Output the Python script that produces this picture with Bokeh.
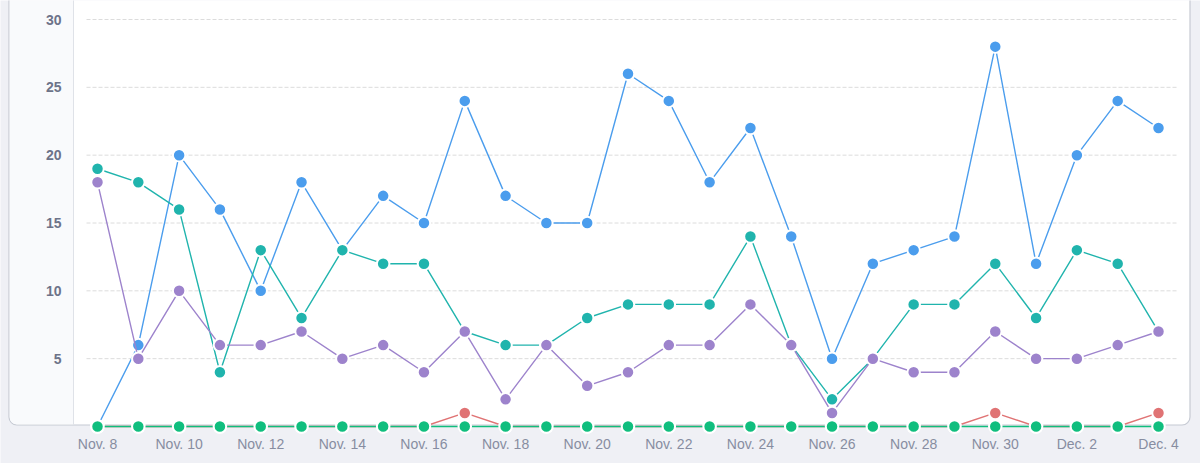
from bokeh.plotting import figure
from bokeh.models import BoxAnnotation, Range1d
from bokeh.core.properties import value
from bokeh.embed import file_html
from bokeh.resources import INLINE

# Daily counts, Nov. 8 through Dec. 4
days = ["Nov. 8", "Nov. 9", "Nov. 10", "Nov. 11", "Nov. 12", "Nov. 13", "Nov. 14",
        "Nov. 15", "Nov. 16", "Nov. 17", "Nov. 18", "Nov. 19", "Nov. 20", "Nov. 21",
        "Nov. 22", "Nov. 23", "Nov. 24", "Nov. 25", "Nov. 26", "Nov. 27", "Nov. 28",
        "Nov. 29", "Nov. 30", "Dec. 1", "Dec. 2", "Dec. 3", "Dec. 4"]

blue_series = [0, 6, 20, 16, 10, 18, 13, 17, 15, 24, 17, 15, 15, 26, 24, 18, 22, 14,
               5, 12, 13, 14, 28, 12, 20, 24, 22]
teal_series = [19, 18, 16, 4, 13, 8, 13, 12, 12, 7, 6, 6, 8, 9, 9, 9, 14, 6,
               2, 5, 9, 9, 12, 8, 13, 12, 7]
purple_series = [18, 5, 10, 6, 6, 7, 5, 6, 4, 7, 2, 6, 3, 4, 6, 6, 9, 6,
                 1, 5, 4, 4, 7, 5, 5, 6, 7]
red_series = [0, 0, 0, 0, 0, 0, 0, 0, 0, 1, 0, 0, 0, 0, 0, 0, 0, 0,
              0, 0, 0, 0, 1, 0, 0, 0, 1]
green_series = [0] * 27

y_ticks = [5, 10, 15, 20, 25, 30]
y_tick_labels = ["5", "10", "15", "20", "25", "30"]
x_tick_labels = ["Nov. 8", "Nov. 10", "Nov. 12", "Nov. 14", "Nov. 16", "Nov. 18",
                 "Nov. 20", "Nov. 22", "Nov. 24", "Nov. 26", "Nov. 28", "Nov. 30",
                 "Dec. 2", "Dec. 4"]

W, H = 1200, 463
# pixel geometry of the plotting area
X0_PX, X1_PX = 97.0, 1158.0          # first / last day centres
Y0_PX, Y30_PX = 426.0, 19.0          # value 0 / value 30
dx = (X1_PX - X0_PX) / (len(days) - 1)
dy = (Y0_PX - Y30_PX) / 30.0


def xd(px):
    return (px - X0_PX) / dx


def yd(py):
    return (Y0_PX - py) / dy


PAGE = "#eff0f5"
p = figure(width=W, height=H, output_backend="svg", toolbar_location=None,
           x_axis_type=None, y_axis_type=None, min_border=0,
           x_range=Range1d(xd(0), xd(W)), y_range=Range1d(yd(H), yd(0)),
           background_fill_color=PAGE, border_fill_color=PAGE,
           outline_line_color=None)

# card with rounded corners and a tinted label column
p.add_layout(BoxAnnotation(left=xd(8.5), right=xd(1189.5), top=yd(-30), bottom=yd(424.5),
                           fill_color="white", fill_alpha=1.0,
                           line_color="#c6cad3", line_width=1.2, line_alpha=1.0,
                           border_radius=8, level="underlay"))
p.add_layout(BoxAnnotation(left=xd(9.2), right=xd(72.5), top=yd(-30), bottom=yd(423.8),
                           fill_color="#f9fafc", fill_alpha=1.0, line_color=None,
                           border_radius=(0, 0, 0, 7), level="underlay"))
p.segment(x0=[xd(73)], x1=[xd(73)], y0=[yd(-5)], y1=[yd(424)],
          line_color="#dfe2e8", line_width=1)

# dashed horizontal gridlines
p.segment(x0=[xd(86)] * len(y_ticks), x1=[xd(1177)] * len(y_ticks),
          y0=y_ticks, y1=y_ticks, line_color="#dcdcdc", line_width=1, line_dash="4 2")

xs = list(range(len(days)))
series = [
    (blue_series, "#4b9ded"),
    (teal_series, "#20b4ad"),
    (purple_series, "#9d83cc"),
    (red_series, "#e07374"),
    (green_series, "#10be7e"),
]
for vals, col in series:
    p.line(xs, vals, line_color=col, line_width=1.4)
    p.scatter(xs, vals, size=12.5, fill_color=col, line_color="white", line_width=2)

# tick labels
p.text(x=[xd(61)] * len(y_ticks), y=y_ticks, text=y_tick_labels,
       text_font=value("Liberation Sans"), text_font_style="bold",
       text_font_size="14px", text_color="#6d7389",
       text_align="right", text_baseline="middle")
x_label_pos = [days.index(lbl) for lbl in x_tick_labels]
p.text(x=x_label_pos, y=[yd(443)] * len(x_label_pos), text=x_tick_labels,
       text_font=value("Liberation Sans"), text_font_size="14px",
       text_color="#878da1", text_align="center", text_baseline="middle")

open("out.html", "w").write(file_html(p, INLINE))
